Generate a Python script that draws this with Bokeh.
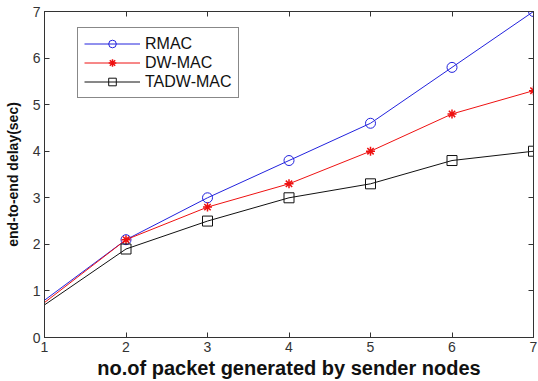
from bokeh.plotting import figure
from bokeh.models import LinearAxis, FixedTicker, Legend, LegendItem, Range1d
from bokeh.embed import file_html
from bokeh.resources import INLINE

x = [1, 2, 3, 4, 5, 6, 7]
rmac = [0.8, 2.1, 3.0, 3.8, 4.6, 5.8, 7.0]
dwmac = [0.75, 2.1, 2.8, 3.3, 4.0, 4.8, 5.3]
tadw = [0.7, 1.9, 2.5, 3.0, 3.3, 3.8, 4.0]
xticks = [1, 2, 3, 4, 5, 6, 7]
yticks = [0, 1, 2, 3, 4, 5, 6, 7]

FONT = "Liberation Sans"

p = figure(width=538, height=381, output_backend="svg", toolbar_location=None,
           x_range=Range1d(1, 7), y_range=Range1d(0, 7),
           min_border_left=44, min_border_right=5, min_border_top=11, min_border_bottom=41)
p.grid.visible = False
p.outline_line_color = "#333333"
p.outline_line_width = 1

def style_axis(ax, labels=True):
    ax.major_tick_in = 5
    ax.major_tick_out = 0
    ax.minor_tick_line_color = None
    ax.axis_line_color = "#333333"
    ax.major_tick_line_color = "#333333"
    ax.major_label_text_font = FONT
    ax.major_label_text_font_size = "14px"
    ax.major_label_text_color = "#333333"
    ax.major_label_standoff = 4
    if not labels:
        ax.major_label_text_font_size = "0px"
        ax.major_label_text_color = None
        ax.major_label_standoff = 0

p.xaxis.ticker = FixedTicker(ticks=xticks)
p.yaxis.ticker = FixedTicker(ticks=yticks)
style_axis(p.xaxis[0])
style_axis(p.yaxis[0])
p.xaxis.axis_label = "no.of packet generated by sender nodes"
p.yaxis.axis_label = "end-to-end delay(sec)"
for ax in (p.xaxis[0], p.yaxis[0]):
    ax.axis_label_text_font = FONT
    ax.axis_label_text_font_style = "bold"
    ax.axis_label_text_color = "#111111"
p.xaxis.axis_label_text_font_size = "20px"
p.yaxis.axis_label_text_font_size = "14px"
p.xaxis.axis_label_standoff = 2
p.yaxis.axis_label_standoff = 9

top = LinearAxis(ticker=FixedTicker(ticks=xticks))
right = LinearAxis(ticker=FixedTicker(ticks=yticks))
style_axis(top, labels=False)
style_axis(right, labels=False)
p.add_layout(top, "above")
p.add_layout(right, "right")

l1 = p.line(x, rmac, color="#2222dd", line_width=1)
m1 = p.scatter(x[1:], rmac[1:], marker="circle", size=10, line_color="#2222dd",
               fill_color=None, line_width=1)
l2 = p.line(x, dwmac, color="#ee1111", line_width=1)
m2 = p.scatter(x[1:], dwmac[1:], marker="asterisk", size=9, line_color="#ee1111",
               line_width=1.5)
l3 = p.line(x, tadw, color="#111111", line_width=1)
m3 = p.scatter(x[1:], tadw[1:], marker="square", size=10, line_color="#111111",
               fill_color=None, line_width=1)

legend = Legend(items=[
    LegendItem(label="RMAC", renderers=[l1, m1]),
    LegendItem(label="DW-MAC", renderers=[l2, m2]),
    LegendItem(label="TADW-MAC", renderers=[l3, m3]),
], location=(33, 239))
legend.border_line_color = "#111111"
legend.border_line_width = 1
legend.background_fill_color = "white"
legend.label_text_font = FONT
legend.label_text_font_size = "16px"
legend.label_text_color = "#111111"
legend.glyph_width = 56
legend.glyph_height = 19
legend.label_height = 19
legend.label_standoff = 5
legend.spacing = 0
legend.padding = 6
legend.margin = 0
p.add_layout(legend, "center")

open("out.html", "w").write(file_html(p, INLINE))
